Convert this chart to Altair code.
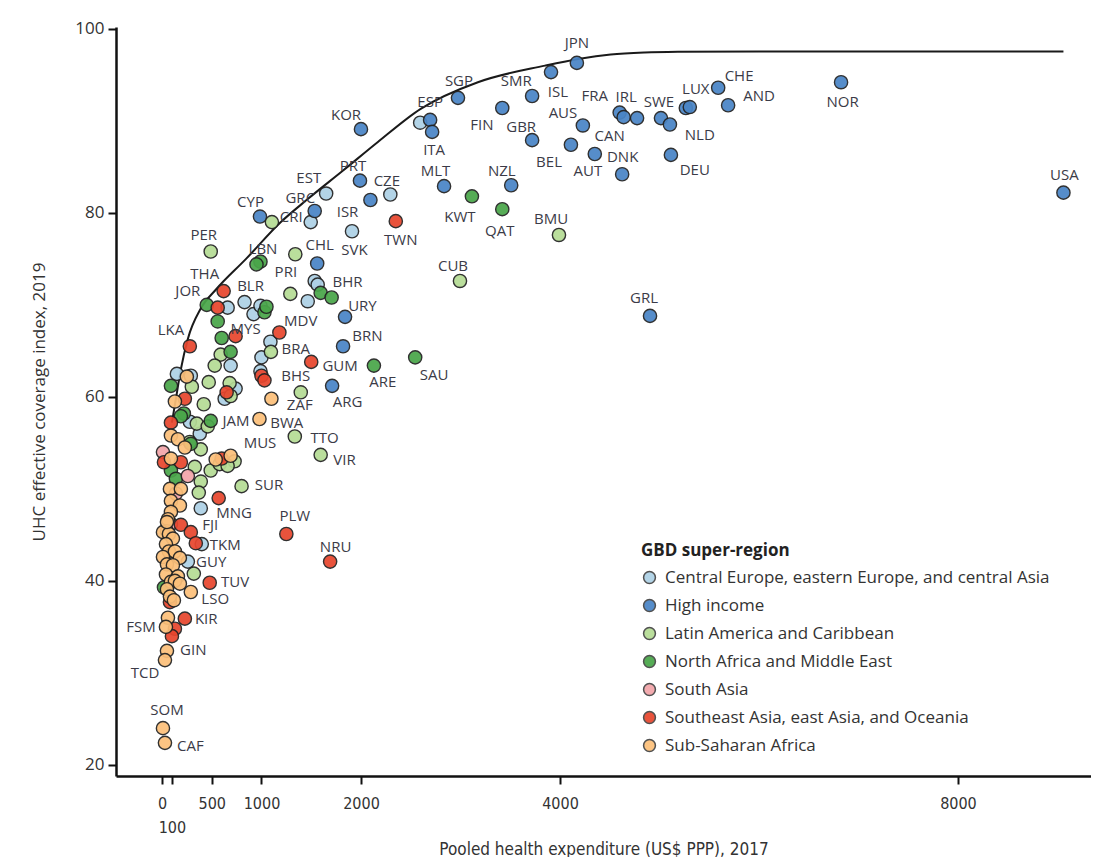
import altair as alt
import pandas as pd

region_names = [
    "Central Europe, eastern Europe, and central Asia",
    "High income",
    "Latin America and Caribbean",
    "North Africa and Middle East",
    "South Asia",
    "Southeast Asia, east Asia, and Oceania",
    "Sub-Saharan Africa",
]
region_colors = ["#aed1e6", "#4a85c6", "#b5dc95", "#4aa64a", "#f3a5aa", "#e8462e", "#fcc07a"]

# Central Europe, eastern Europe, and central Asia
ceeca_x = [1650, 2295, 2595, 1495, 1910, 1535, 1565, 1465, 830, 920, 990, 660, 1090, 1000, 690, 990, 150, 290, 740, 630, 280, 380, 390, 400, 260]
ceeca_y = [82.1, 82.0, 89.8, 79.0, 78.0, 72.6, 72.2, 70.4, 70.3, 69.0, 69.9, 69.7, 66.0, 64.3, 63.4, 62.8, 62.5, 62.3, 60.9, 59.8, 57.3, 56.0, 47.9, 44.0, 42.1]
# High income
high_x = [4170, 3910, 3720, 2975, 2695, 2715, 3420, 3720, 4230, 4110, 4350, 4625, 4600, 4640, 4775, 5015, 5105, 5265, 5305, 5590, 5690, 5115, 6825, 9060, 2835, 3510, 4905, 2000, 1990, 2095, 985, 1535, 1560, 1840, 1820, 1710]
high_y = [96.3, 95.3, 92.7, 92.5, 90.1, 88.8, 91.4, 87.9, 89.5, 87.4, 86.4, 84.2, 90.9, 90.4, 90.3, 90.3, 89.6, 91.4, 91.5, 93.6, 91.7, 86.3, 94.2, 82.2, 82.9, 83.0, 68.8, 89.1, 83.5, 81.4, 79.6, 80.2, 74.5, 68.7, 65.5, 61.2]
# Latin America and Caribbean
latam_x = [1105, 490, 1340, 1290, 3990, 2995, 1095, 590, 530, 1395, 300, 470, 680, 690, 420, 350, 460, 280, 390, 1335, 1595, 330, 490, 580, 730, 660, 390, 800, 370, 320]
latam_y = [79.0, 75.8, 75.5, 71.2, 77.6, 72.6, 64.9, 64.6, 63.4, 60.5, 61.1, 61.6, 61.5, 60.1, 59.2, 57.1, 56.8, 55.1, 54.3, 55.7, 53.7, 52.4, 52.0, 52.7, 53.0, 52.5, 50.8, 50.3, 49.6, 40.8]
# North Africa and Middle East
name_x = [3115, 3420, 2545, 2130, 990, 950, 1595, 1705, 1030, 1050, 450, 560, 600, 690, 90, 220, 190, 490, 290, 90, 140, 20]
name_y = [81.8, 80.4, 64.3, 63.4, 74.7, 74.4, 71.3, 70.8, 69.2, 69.8, 70.0, 68.2, 66.4, 64.9, 61.2, 58.2, 57.9, 57.4, 54.9, 52.0, 51.1, 39.3]
# South Asia
sasia_x = [10, 260, 90, 140]
sasia_y = [54.0, 51.4, 46.2, 49.5]
# Southeast Asia, east Asia, and Oceania
seao_x = [2350, 620, 560, 740, 280, 1180, 1500, 1000, 1030, 650, 230, 90, 190, 20, 600, 570, 190, 290, 340, 1250, 1690, 480, 80, 230, 130, 100]
seao_y = [79.1, 71.5, 69.7, 66.6, 65.5, 67.0, 63.8, 62.3, 61.8, 60.5, 59.8, 57.2, 52.9, 52.9, 53.3, 49.0, 46.1, 45.3, 44.1, 45.1, 42.1, 39.8, 37.7, 35.9, 34.8, 34.0]
# Sub-Saharan Africa
ssa_x = [1100, 980, 250, 130, 90, 160, 230, 90, 540, 690, 80, 190, 90, 180, 90, 60, 50, 10, 70, 110, 40, 70, 130, 180, 10, 50, 110, 40, 160, 90, 130, 180, 50, 80, 120, 290, 60, 40, 50, 30, 10, 30, 50]
ssa_y = [59.8, 57.6, 62.2, 59.5, 55.8, 55.4, 54.5, 53.3, 53.2, 53.6, 50.0, 50.0, 48.7, 48.2, 47.5, 46.7, 45.4, 45.3, 45.1, 44.6, 44.0, 43.2, 43.2, 42.5, 42.6, 41.8, 41.7, 40.7, 40.5, 39.9, 40.0, 39.7, 39.1, 38.3, 37.9, 38.8, 36.0, 35.0, 32.4, 31.4, 24.0, 22.4, 46.4]

# Country labels (text and where it sits, in axis units)
label_text = ["JPN", "KOR", "SGP", "SMR", "ISL", "ESP", "ITA", "FIN", "GBR", "AUS", "FRA", "IRL", "SWE", "LUX", "CHE", "AND", "NLD", "BEL", "CAN", "AUT", "DNK", "DEU", "NOR", "USA", "MLT", "NZL", "KWT", "QAT", "BMU", "TWN", "CUB", "GRL", "SAU", "ARE", "PRT", "EST", "CZE", "CYP", "GRC", "CRI", "ISR", "SVK", "PER", "LBN", "CHL", "PRI", "BHR", "THA", "JOR", "BLR", "URY", "MDV", "LKA", "MYS", "BRN", "BRA", "GUM", "BHS", "ARG", "ZAF", "JAM", "BWA", "MUS", "TTO", "VIR", "SUR", "MNG", "PLW", "FJI", "NRU", "TKM", "GUY", "TUV", "LSO", "KIR", "FSM", "GIN", "TCD", "SOM", "CAF"]
label_x = [4170, 1850, 2985, 3560, 3980, 2695, 2735, 3215, 3610, 4030, 4350, 4665, 4995, 5365, 5800, 6000, 5405, 3890, 4500, 4280, 4630, 5355, 6840, 9070, 2750, 3415, 2995, 3395, 3910, 2400, 2925, 4845, 2735, 2220, 1920, 1475, 2260, 890, 1390, 1300, 1865, 1935, 420, 1015, 1585, 1245, 1865, 430, 260, 890, 2015, 1395, 90, 840, 2065, 1345, 1790, 1345, 1865, 1385, 745, 1255, 985, 1635, 1835, 1075, 725, 1335, 485, 1745, 635, 495, 735, 535, 445, -210, 315, -170, 50, 285]
label_y = [98.5, 90.6, 94.3, 94.3, 93.1, 92.0, 86.8, 89.5, 89.3, 90.9, 92.7, 92.6, 92.1, 93.5, 94.9, 92.7, 88.5, 85.5, 88.3, 84.6, 86.1, 84.7, 92.0, 84.1, 84.5, 84.6, 79.6, 78.0, 79.3, 77.0, 74.2, 70.7, 62.4, 61.6, 85.1, 83.8, 83.5, 81.2, 81.6, 79.6, 80.1, 76.0, 77.6, 76.1, 76.5, 73.6, 72.5, 73.4, 71.5, 72.0, 69.9, 68.2, 67.3, 67.4, 66.6, 65.2, 63.4, 62.3, 59.5, 59.1, 57.4, 57.2, 55.0, 55.5, 53.1, 50.4, 47.4, 47.1, 46.1, 43.7, 43.9, 42.1, 39.9, 38.0, 35.9, 35.0, 32.5, 30.0, 26.0, 22.1]

# Frontier curve
frontier_x = [100, 140, 190, 260, 390, 545, 845, 1195, 1465, 1820, 2170, 2600, 3175, 3850, 4200, 4510, 4850, 5185, 6000, 7000, 9060]
frontier_y = [57.2, 59.8, 63.0, 66.3, 69.6, 71.7, 75.0, 79.0, 81.5, 84.6, 87.7, 91.3, 94.2, 96.0, 96.75, 97.2, 97.42, 97.5, 97.55, 97.55, 97.55]

x_ticks = [0, 100, 500, 1000, 2000, 4000, 8000]
y_ticks = [20, 40, 60, 80, 100]

series = [
    (ceeca_x, ceeca_y), (high_x, high_y), (latam_x, latam_y), (name_x, name_y),
    (sasia_x, sasia_y), (seao_x, seao_y), (ssa_x, ssa_y),
]
rows = []
for name, (xs, ys) in zip(region_names, series):
    for xv, yv in zip(xs, ys):
        rows.append({"x": xv, "y": yv, "region": name})
points_df = pd.DataFrame(rows)
labels_df = pd.DataFrame({"x": label_x, "y": label_y, "label": label_text})
frontier_df = pd.DataFrame({"x": frontier_x, "y": frontier_y})

COND = "DejaVu Sans Condensed, Liberation Sans, sans-serif"

xscale = alt.Scale(domain=[-462, 9337], nice=False, zero=False)
yscale = alt.Scale(domain=[18.8, 100.2], nice=False, zero=False)

xaxis = alt.Axis(
    values=x_ticks, format="d", grid=False,
    labelExpr="datum.value == 100 ? ['', '100'] : datum.label",
    labelOverlap=False, labelFlush=False,
    title="Pooled health expenditure (US$ PPP), 2017",
    labelFont=COND, titleFont=COND,
    labelFontSize=16, titleFontSize=17, labelPadding=11, titlePadding=6,
    labelLineHeight=24, tickSize=8,
)
yaxis = alt.Axis(
    values=y_ticks, grid=False,
    title="UHC effective coverage index, 2019",
    labelFont="Open Sans", titleFont="Open Sans",
    labelFontSize=17, titleFontSize=17, labelPadding=4, titlePadding=26,
    tickSize=8,
)

frontier = alt.Chart(frontier_df).mark_line(
    color="#1a1a1a", strokeWidth=2, interpolate="monotone"
).encode(x=alt.X("x:Q", scale=xscale, axis=xaxis), y=alt.Y("y:Q", scale=yscale, axis=yaxis))

pts = alt.Chart(points_df).mark_circle(
    size=175, stroke="#222222", strokeWidth=1.4, opacity=0.93
).encode(
    x=alt.X("x:Q", scale=xscale),
    y=alt.Y("y:Q", scale=yscale),
    color=alt.Color(
        "region:N",
        scale=alt.Scale(domain=region_names, range=region_colors),
        legend=alt.Legend(
            orient="none", legendX=525, legendY=516,
            title="GBD super-region", titleFont="Open Sans", titleFontSize=17,
            titleFontWeight="bold", titleColor="#222", titlePadding=9,
            labelFont="Open Sans", labelFontSize=17, labelColor="#333",
            labelLimit=700, labelOffset=7, rowPadding=9,
            symbolType="circle", symbolSize=140, symbolStrokeColor="#444",
            symbolStrokeWidth=1.5, symbolOpacity=0.93,
        ),
    ),
)

texts = alt.Chart(labels_df).mark_text(
    font="Open Sans", fontSize=15, color="#3b3b47"
).encode(
    x=alt.X("x:Q", scale=xscale),
    y=alt.Y("y:Q", scale=yscale),
    text="label:N",
)

chart = alt.layer(frontier, pts, texts).properties(
    width=975, height=749,
    padding={"left": 22, "top": 11, "right": 0, "bottom": 0},
).configure_view(stroke=None).configure_axis(
    domainColor="#111", domainWidth=2.5, tickColor="#111", tickWidth=2,
    labelColor="#333", titleColor="#333", titleFontWeight="normal",
)

chart.save("out.html", embed_options={"renderer": "svg", "actions": False})
